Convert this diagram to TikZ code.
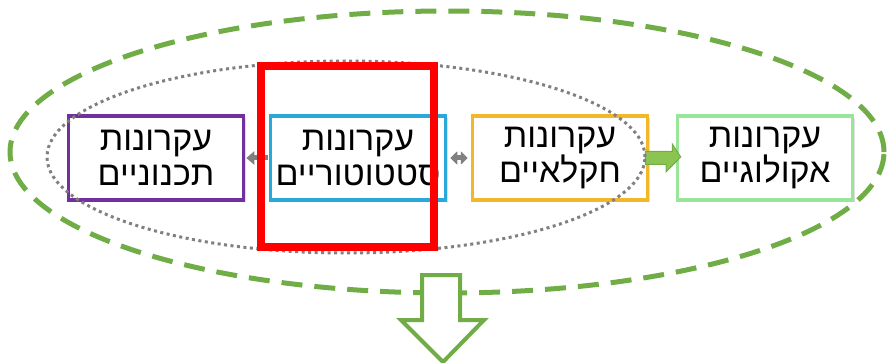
\documentclass[tikz,border=0pt]{standalone}
\usepackage{fontspec}
\usepackage{xcolor}
\usetikzlibrary{arrows.meta,shadows}
\TeXXeTstate=1
\newfontfamily\hebfont[Script=Hebrew]{Liberation Sans}
\definecolor{planpurple}{HTML}{7030A0}
\definecolor{planblue}{HTML}{2AA8DC}
\definecolor{planyellow}{HTML}{F2B82A}
\definecolor{planmint}{HTML}{99E69A}
\definecolor{plangreen}{HTML}{70AD47}
\definecolor{planarrow}{HTML}{8CC452}

\begin{document}
\begin{tikzpicture}[x=1pt, y=1pt,
		principle/.style={draw, fill=white, line width=3.5pt, minimum width=175pt, minimum height=84pt, align=center, inner sep=0pt,
			font=\hebfont\fontsize{34}{35}\selectfont,
			drop shadow={opacity=0.25, shadow xshift=2pt, shadow yshift=-2pt}},
		grayarrow/.style={line width=5pt, color=gray, -{Triangle[length=8pt, width=13pt]}, shorten >=1pt, shorten <=1pt}
	]
		\useasboundingbox (0,0) rectangle (887,362);

		\node[principle, draw=planpurple] (planning) at (156,204) {\beginR עקרונות\endR\\\beginR תכנוניים\endR};
		\node[principle, draw=planblue] (statutory) at (358,204) {\beginR עקרונות\endR\\\beginR סטטוטוריים\endR};
		\node[principle, draw=planyellow] (agri) at (560,204) {\beginR עקרונות\endR\\\beginR חקלאיים\endR};
		\node[principle, draw=planmint] (eco) at (765,204) {\beginR עקרונות\endR\\\beginR אקולוגיים\endR};

		\draw[grayarrow] (statutory) -- (planning);
		\draw[grayarrow, {Triangle[length=7pt, width=13pt]}-{Triangle[length=7pt, width=13pt]}, shorten >=3pt, shorten <=3pt] (statutory) -- (agri);

		\draw[draw=plangreen, fill=planarrow, line width=1pt]
			([yshift=6.5pt, xshift=-4pt]agri.east) -- ++(27,0) -- ++(0,7.5) -- ([xshift=5pt, yshift=1pt]eco.west)
			-- ([xshift=-4pt, yshift=-14pt]agri.east -| 670,0) -- ++(0,7.5) -- ([yshift=-6.5pt, xshift=-4pt]agri.east) -- cycle;

		\draw[gray, line width=3pt, dash pattern=on 3pt off 3.5pt] (346,205) ellipse [x radius=299, y radius=96];
		\draw[plangreen, line width=5pt, dash pattern=on 21pt off 12pt] (447,210) ellipse [x radius=437, y radius=141];

		\draw[red, line width=8pt] (261,296) rectangle (434,115);

		\draw[plangreen, fill=white, line width=4pt, line join=miter]
			(422,87) -- (460,87) -- (460,42) -- (484,42) -- (443,0) -- (401,42) -- (422,42) -- cycle;
	\end{tikzpicture}
\end{document}
